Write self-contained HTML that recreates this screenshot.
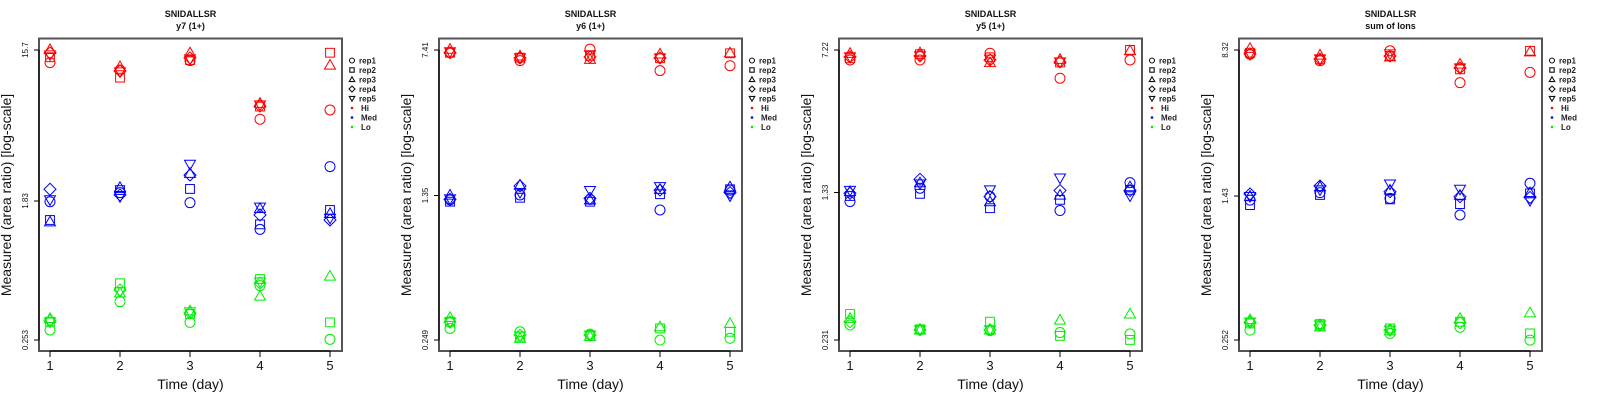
<!DOCTYPE html>
<html><head><meta charset="utf-8"><style>
html,body{margin:0;padding:0;background:#fff;}
svg{display:block;font-family:"Liberation Sans",sans-serif;}
</style></head><body>
<svg id="chart" width="1600" height="400" viewBox="0 0 1600 400"></svg>
<script>
// Panel metadata
const panelSubtitles = ["y7 (1+)", "y6 (1+)", "y5 (1+)", "sum of Ions"];
const yTickLabels = [["15.7","1.83","0.253"],["7.41","1.35","0.249"],["7.22","1.33","0.231"],["8.32","1.43","0.252"]];
const yTickValues = [[15.7,1.83,0.253],[7.41,1.35,0.249],[7.22,1.33,0.231],[8.32,1.43,0.252]];
const days = [1,2,3,4,5];
const reps = ["rep1","rep2","rep3","rep4","rep5"];
const levels = ["Hi","Med","Lo"];
// log10(measured area ratio): [day][rep]
const p1Hi  = [[1.118,1.151,1.200,1.178,1.165],[1.072,1.025,1.093,1.066,1.060],[1.130,1.134,1.179,1.147,1.140],[0.768,0.846,0.867,0.850,0.856],[0.825,1.179,1.103,null,null]];
const p1Med = [[0.258,0.145,0.134,0.335,0.269],[0.314,0.330,0.347,0.300,0.289],[0.252,0.337,0.434,0.423,0.489],[0.087,0.118,0.217,0.176,0.224],[0.475,0.207,0.186,0.145,0.155]];
const p1Lo  = [[-0.535,-0.484,-0.463,-0.478,-0.486],[-0.360,-0.246,-0.305,-0.288,-0.300],[-0.488,-0.436,-0.416,-0.430,-0.424],[-0.261,-0.220,-0.325,-0.245,-0.238],[-0.593,-0.488,-0.201,null,null]];
const p2Hi  = [[0.856,0.856,0.874,0.856,0.860],[0.816,0.831,0.840,0.829,0.829],[0.874,0.840,0.823,0.834,0.845],[0.765,0.828,0.850,0.829,0.829],[0.790,0.853,0.856,null,null]];
const p2Med = [[0.108,0.099,0.133,0.111,0.113],[0.133,0.119,0.184,0.179,0.145],[0.111,0.099,0.108,0.116,0.155],[0.057,0.137,0.162,0.158,0.175],[0.158,0.162,0.175,0.145,0.128]];
const p2Lo  = [[-0.545,-0.511,-0.489,-0.513,-0.513],[-0.562,-0.587,-0.595,-0.579,-0.584],[-0.574,-0.584,-0.584,-0.579,-0.579],[-0.604,-0.545,-0.536,null,null],[-0.595,-0.562,-0.519,null,null]];
const p3Hi  = [[0.807,0.816,0.842,0.823,0.823],[0.807,0.837,0.845,0.828,0.828],[0.842,0.821,0.794,0.807,0.811],[0.713,0.794,0.811,0.797,0.797],[0.807,0.859,0.855,null,null]];
const p3Med = [[0.077,0.106,0.129,0.120,0.134],[0.146,0.117,0.175,0.192,0.168],[0.103,0.043,0.077,0.103,0.137],[0.031,0.086,0.111,0.134,0.198],[0.175,0.137,0.154,0.134,0.106]];
const p3Lo  = [[-0.559,-0.502,-0.524,-0.542,null],[-0.584,-0.581,-0.584,-0.584,-0.584],[-0.588,-0.542,-0.584,-0.584,-0.584],[-0.598,-0.615,-0.533,null,null],[-0.605,-0.636,-0.502,null,null]];
const p4Hi  = [[0.898,0.906,0.929,0.899,0.899],[0.864,0.871,0.894,0.873,0.873],[0.916,0.889,0.885,0.889,0.899],[0.749,0.819,0.847,0.826,0.826],[0.803,0.916,0.911,null,null]];
const p4Med = [[0.134,0.108,0.155,0.166,0.152],[0.173,0.161,0.204,0.208,0.187],[0.143,0.138,0.187,0.178,0.218],[0.056,0.113,0.160,0.152,0.190],[0.222,0.169,0.173,0.148,0.131]];
const p4Lo  = [[-0.547,-0.512,-0.491,-0.505,-0.505],[-0.526,-0.515,-0.529,-0.520,-0.520],[-0.564,-0.538,-0.550,-0.547,-0.547],[-0.532,-0.503,-0.485,-0.508,null],[-0.599,-0.564,-0.456,null,null]];

const panelData = [[p1Hi,p1Med,p1Lo],[p2Hi,p2Med,p2Lo],[p3Hi,p3Med,p3Lo],[p4Hi,p4Med,p4Lo]];
const levelColors = ["#ff0000","#0000ff","#00ee00"];
const NS = "http://www.w3.org/2000/svg";
const svg = document.getElementById("chart");
function mk(tag, attrs, parent){const e=document.createElementNS(NS,tag);for(const k in attrs)e.setAttribute(k,attrs[k]);(parent||svg).appendChild(e);return e;}

function marker(g, shape, cx, cy, s, color, sw){
  let e;
  if(shape===0){e=mk("circle",{cx:cx,cy:cy,r:s*0.5,fill:"none",stroke:color,"stroke-width":sw},g);}
  else if(shape===1){const h=s*0.44;e=mk("rect",{x:cx-h,y:cy-h,width:2*h,height:2*h,fill:"none",stroke:color,"stroke-width":sw},g);}
  else if(shape===2){const h=s*0.55;e=mk("polygon",{points:`${cx},${cy-h} ${cx+h},${cy+h*0.75} ${cx-h},${cy+h*0.75}`,fill:"none",stroke:color,"stroke-width":sw},g);}
  else if(shape===3){const h=s*0.6;e=mk("polygon",{points:`${cx},${cy-h} ${cx+h},${cy} ${cx},${cy+h} ${cx-h},${cy}`,fill:"none",stroke:color,"stroke-width":sw},g);}
  else {const h=s*0.55;e=mk("polygon",{points:`${cx},${cy+h} ${cx+h},${cy-h*0.75} ${cx-h},${cy-h*0.75}`,fill:"none",stroke:color,"stroke-width":sw},g);}
  return e;
}

for(let p=0;p<4;p++){
  const L = 39 + p*400, R = L+303, T = 38.5, B = 351;
  const g = mk("g",{});
  
  
  const xScale = d => L + 11 + (d-1)*70;
  const lhi = Math.log10(yTickValues[p][0]), llo = Math.log10(yTickValues[p][2]);
  const yScale = v => 50 + (lhi - v)/(lhi-llo)*290;
  // titles
  const cx = (L+R)/2;
  const t1 = mk("text",{x:cx,y:17,"text-anchor":"middle","font-size":"9","font-weight":"bold",fill:"#111"},g);
  t1.textContent="SNIDALLSR";
  
  
  const t2 = mk("text",{x:cx,y:29,"text-anchor":"middle","font-size":"9","font-weight":"bold",fill:"#111"},g);
  t2.textContent=panelSubtitles[p];
  
  
  // box
  const box = mk("rect",{x:L,y:T,width:R-L,height:B-T,fill:"none",stroke:"#555","stroke-width":2},g);
  
  
  // x axis
  mk("line",{x1:xScale(1),y1:B,x2:xScale(5),y2:B,stroke:"#000","stroke-width":1},g);
  days.forEach(d=>{
    mk("line",{x1:xScale(d),y1:B,x2:xScale(d),y2:B+6,stroke:"#000","stroke-width":1},g);
    const tl = mk("text",{x:xScale(d),y:370,"text-anchor":"middle","font-size":"13",fill:"#111"},g);
    tl.textContent=String(d);
    
    
  });
  const xt = mk("text",{x:cx,y:389,"text-anchor":"middle","font-size":"14",fill:"#111"},g);
  xt.textContent="Time (day)";
  
  
  // y axis
  mk("line",{x1:L,y1:yScale(lhi),x2:L,y2:yScale(llo),stroke:"#000","stroke-width":1},g);
  yTickValues[p].forEach((v,i)=>{
    const y = yScale(Math.log10(v));
    mk("line",{x1:L-5,y1:y,x2:L,y2:y,stroke:"#000","stroke-width":1},g);
    const yl = mk("text",{x:0,y:0,"text-anchor":"middle","font-size":"8",fill:"#111",transform:`translate(${L-11},${y}) rotate(-90)`},g);
    yl.textContent=yTickLabels[p][i];
    
    
  });
  const yt = mk("text",{x:0,y:0,"text-anchor":"middle","font-size":"14",fill:"#111",transform:`translate(${L-28},195) rotate(-90)`},g);
  yt.textContent="Measured (area ratio) [log-scale]";
  
  
  // points
  panelData[p].forEach((series,li)=>{
    series.forEach((row,di)=>{
      row.forEach((v,ri)=>{
        if(v===null) return;
        const m = marker(g, ri, xScale(days[di]), yScale(v), 10, levelColors[li], 1);
        
        
      });
    });
  });
  // legend
  const lg = mk("g",{},g);
  
  
  const lx = L+313, tx = L+320;
  reps.forEach((r,i)=>{
    const y = 60.5 + i*9.5;
    marker(lg, i, lx, y, 5, "#111", 1.1);
    const lt = mk("text",{x:tx,y:y+3,"font-size":"8","font-weight":"bold",fill:"#222"},lg);
    lt.textContent=r;
    
    
  });
  levels.forEach((lv,i)=>{
    const y = 60.5 + (5+i)*9.5;
    mk("circle",{cx:lx,cy:y,r:1.3,fill:levelColors[i]},lg);
    const lt = mk("text",{x:tx+2,y:y+3,"font-size":"8","font-weight":"bold",fill:"#222"},lg);
    lt.textContent=lv;
    
    
  });
}
</script>
</body></html>
